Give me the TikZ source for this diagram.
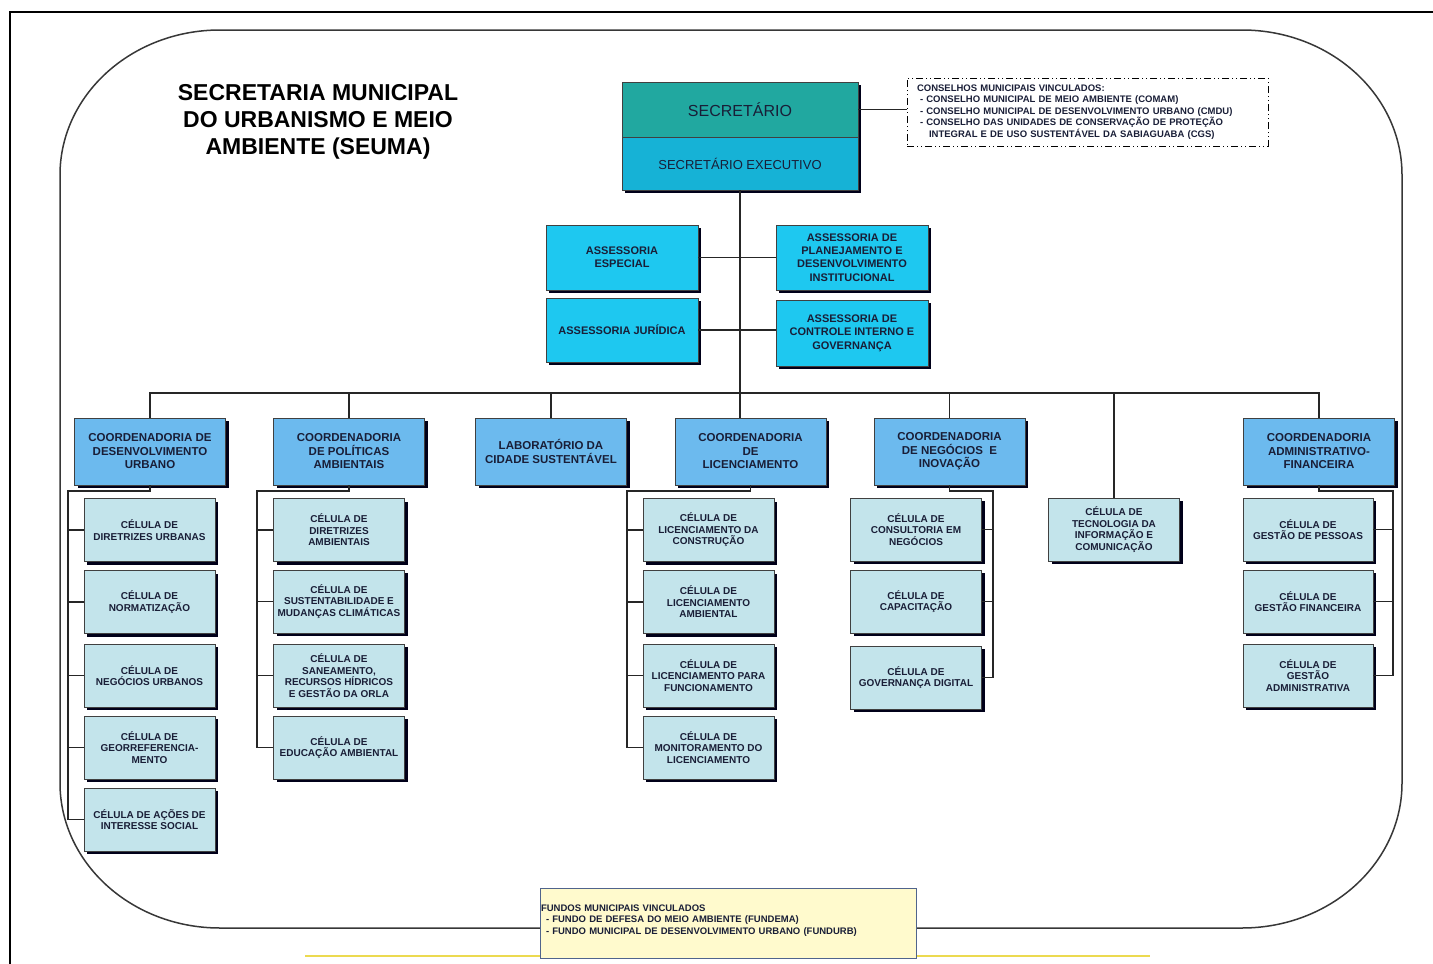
\documentclass[tikz,border=0pt]{standalone}
\usepackage{fontspec}
\setmainfont{Liberation Sans}
\usetikzlibrary{shadows,calc}
\definecolor{secc}{RGB}{33,168,160}
\definecolor{execc}{RGB}{22,178,214}
\definecolor{assc}{RGB}{30,200,240}
\definecolor{coordc}{RGB}{108,186,238}
\definecolor{cellc}{RGB}{195,228,235}
\definecolor{txtc}{RGB}{25,30,55}
\definecolor{fundc}{RGB}{255,250,205}
\definecolor{fundb}{RGB}{80,100,140}
\definecolor{yellc}{RGB}{236,218,80}
\definecolor{framec}{RGB}{55,55,55}
\begin{document}
\begin{tikzpicture}[x=1pt,y=-1pt,
  orgbox/.style={draw=black!75, line width=0.6pt, align=center, text=txtc, inner sep=1pt,
    general shadow={fill=black!90!blue, shadow xshift=3pt, shadow yshift=-3pt}},
  cellbox/.style={orgbox, fill=cellc, minimum width=131pt, minimum height=63pt,
    font=\fontsize{10}{11.5}\selectfont\bfseries},
  coordbox/.style={orgbox, fill=coordc, minimum width=151pt, minimum height=67pt,
    font=\fontsize{11.5}{13.5}\selectfont\bfseries},
  assbox/.style={orgbox, fill=assc, minimum width=152pt, minimum height=65pt,
    font=\fontsize{11}{13.3}\selectfont\bfseries},
  conn/.style={draw=black!85, line width=1.1pt}
]
\useasboundingbox (0,0) rectangle (1433,964);
% outer frame
\draw[line width=1.2pt] (10,964) -- (10,12) -- (1433,12);
% rounded frame
\def\rx{160}\def\ry{145}
\draw[framec, line width=1.5pt] ({60+\rx},30) -- ({1402-\rx},30)
  arc[start angle=-90, end angle=0, x radius=\rx, y radius=\ry]
  -- (1402,{928-\ry})
  arc[start angle=0, end angle=90, x radius=\rx, y radius=\ry]
  -- ({60+\rx},928)
  arc[start angle=90, end angle=180, x radius=\rx, y radius=\ry]
  -- (60,{30+\ry})
  arc[start angle=180, end angle=270, x radius=\rx, y radius=\ry] -- cycle;
% bottom yellow line
\draw[yellc, line width=2.5pt] (305,956) -- (1150,956);

% title
\node[align=center, font=\fontsize{23}{27}\selectfont\bfseries] (title) at (318,122)
  {SECRETARIA MUNICIPAL\\DO URBANISMO E MEIO\\AMBIENTE (SEUMA)};

% secretario
\node[orgbox, fill=secc, minimum width=236pt, minimum height=55pt, font=\fontsize{16}{18}\selectfont] (sec) at (740,109.5) {SECRETÁRIO};
\node[orgbox, fill=execc, minimum width=236pt, minimum height=53pt, font=\fontsize{13}{15}\selectfont] (exe) at (740,163.5) {SECRETÁRIO EXECUTIVO};

% councils
\node[draw=black, line width=0.8pt, dash pattern=on 7pt off 3pt on 1pt off 3pt on 1pt off 3pt,
  minimum width=361pt, minimum height=68pt, inner xsep=10pt, text width=341pt, align=left,
  text=txtc, font=\fontsize{9.5}{11.5}\selectfont\bfseries] (conc) at (1087.5,112)
  {CONSELHOS MUNICIPAIS VINCULADOS:\\
   \hspace*{3pt}- CONSELHO MUNICIPAL DE MEIO AMBIENTE (COMAM)\\
   \hspace*{3pt}- CONSELHO MUNICIPAL DE DESENVOLVIMENTO URBANO (CMDU)\\
   \hspace*{3pt}- CONSELHO DAS UNIDADES DE CONSERVAÇÃO DE PROTEÇÃO\\
   \hspace*{12pt}INTEGRAL E DE USO SUSTENTÁVEL DA SABIAGUABA (CGS)};

% assessorias
\node[assbox] (esp) at (622,257.5) {ASSESSORIA\\ESPECIAL};
\node[assbox, minimum height=64pt] (jur) at (622,330) {ASSESSORIA JURÍDICA};
\node[assbox] (plan) at (852,257.5) {ASSESSORIA DE\\PLANEJAMENTO E\\DESENVOLVIMENTO\\INSTITUCIONAL};
\node[assbox, minimum height=66pt] (ctrl) at (852,333) {ASSESSORIA DE\\CONTROLE INTERNO E\\GOVERNANÇA};

% coordenadorias
\node[coordbox] (cdu) at (150,451.5) {COORDENADORIA DE\\DESENVOLVIMENTO\\URBANO};
\node[coordbox] (cpa) at (349,451.5) {COORDENADORIA\\DE POLÍTICAS\\AMBIENTAIS};
\node[coordbox] (lab) at (551,451.5) {LABORATÓRIO DA\\CIDADE SUSTENTÁVEL};
\node[coordbox] (lic) at (750.5,451.5) {COORDENADORIA\\DE\\LICENCIAMENTO};
\node[coordbox] (cni) at (949.5,451.5) {COORDENADORIA\\DE NEGÓCIOS\ \ E\\INOVAÇÃO};
\node[coordbox] (cadm) at (1319,451.5) {COORDENADORIA\\ADMINISTRATIVO-\\FINANCEIRA};

% cells: desenvolvimento urbano
\node[cellbox] (du1) at (149.5,530) {CÉLULA DE\\DIRETRIZES URBANAS};
\node[cellbox] (du2) at (149.5,602) {CÉLULA DE\\NORMATIZAÇÃO};
\node[cellbox] (du3) at (149.5,675.5) {CÉLULA DE\\NEGÓCIOS URBANOS};
\node[cellbox] (du4) at (149.5,747.5) {CÉLULA DE\\GEORREFERENCIA-\\MENTO};
\node[cellbox] (du5) at (149.5,819.5) {CÉLULA DE AÇÕES DE\\INTERESSE SOCIAL};
% politicas ambientais
\node[cellbox] (pa1) at (339,530) {CÉLULA DE\\DIRETRIZES\\AMBIENTAIS};
\node[cellbox] (pa2) at (339,601.5) {CÉLULA DE\\SUSTENTABILIDADE E\\MUDANÇAS CLIMÁTICAS};
\node[cellbox] (pa3) at (339,675.5) {CÉLULA DE\\SANEAMENTO,\\RECURSOS HÍDRICOS\\E GESTÃO DA ORLA};
\node[cellbox] (pa4) at (339,747.5) {CÉLULA DE\\EDUCAÇÃO AMBIENTAL};
% licenciamento
\node[cellbox] (lc1) at (708.5,530) {CÉLULA DE\\LICENCIAMENTO DA\\CONSTRUÇÃO};
\node[cellbox] (lc2) at (708.5,602) {CÉLULA DE\\LICENCIAMENTO\\AMBIENTAL};
\node[cellbox] (lc3) at (708.5,675.5) {CÉLULA DE\\LICENCIAMENTO PARA\\FUNCIONAMENTO};
\node[cellbox] (lc4) at (708.5,747.5) {CÉLULA DE\\MONITORAMENTO DO\\LICENCIAMENTO};
% negocios
\node[cellbox] (ng1) at (916,529.5) {CÉLULA DE\\CONSULTORIA EM\\NEGÓCIOS};
\node[cellbox] (ng2) at (916,601.5) {CÉLULA DE\\CAPACITAÇÃO};
\node[cellbox] (ng3) at (916,677.5) {CÉLULA DE\\GOVERNANÇA DIGITAL};
% TI
\node[cellbox] (ti) at (1114,529.5) {CÉLULA DE\\TECNOLOGIA DA\\INFORMAÇÃO E\\COMUNICAÇÃO};
% administrativo
\node[cellbox, minimum width=130pt] (ad1) at (1308,529.5) {CÉLULA DE\\GESTÃO DE PESSOAS};
\node[cellbox, minimum width=130pt] (ad2) at (1308,601.5) {CÉLULA DE\\GESTÃO FINANCEIRA};
\node[cellbox, minimum width=130pt] (ad3) at (1308,675.5) {CÉLULA DE\\GESTÃO\\ADMINISTRATIVA};

% fundos
\node[draw=fundb, line width=0.8pt, fill=fundc, minimum width=376pt, minimum height=70pt,
  inner xsep=1pt, text width=374pt, align=left, text=txtc,
  font=\fontsize{9.5}{11.5}\selectfont\bfseries] (fund) at (728,923)
  {FUNDOS MUNICIPAIS VINCULADOS\\
   \hspace*{5pt}- FUNDO DE DEFESA DO MEIO AMBIENTE (FUNDEMA)\\
   \hspace*{5pt}- FUNDO MUNICIPAL DE DESENVOLVIMENTO URBANO (FUNDURB)\\[-4pt]\mbox{}};

% connectors
\coordinate (bus) at (740,393);
\draw[conn] (sec.east) -- (sec.east -| conc.west);
\draw[conn] (exe.south) -- (exe.south |- lic.north);
\draw[conn] (esp.east) -- (plan.west);
\draw[conn] (jur.east) -- (jur.east -| ctrl.west);
\draw[conn] (cdu.north) |- (bus) -| (cadm.north);
\foreach \n in {cpa,lab,cni,ti} \draw[conn] (\n.north) -- (\n.north |- bus);

\coordinate (du) at (68,491);
\draw[conn] (cdu.south) -- (cdu.south |- du) -- (du) -- (du |- du5.west) -- (du5.west);
\foreach \n in {du1,du2,du3,du4} \draw[conn] (du |- \n.west) -- (\n.west);

\coordinate (pa) at (257,491);
\draw[conn] (cpa.south) -- (cpa.south |- pa) -- (pa) -- (pa |- pa4.west) -- (pa4.west);
\foreach \n in {pa1,pa2,pa3} \draw[conn] (pa |- \n.west) -- (\n.west);

\coordinate (lcv) at (627,491);
\draw[conn] (lic.south) -- (lic.south |- lcv) -- (lcv) -- (lcv |- lc4.west) -- (lc4.west);
\foreach \n in {lc1,lc2,lc3} \draw[conn] (lcv |- \n.west) -- (\n.west);

\coordinate (ngv) at (993,491);
\draw[conn] (cni.south) -- (cni.south |- ngv) -- (ngv) -- (ngv |- ng3.east) -- (ng3.east);
\foreach \n in {ng1,ng2} \draw[conn] (ngv |- \n.east) -- (\n.east);

\coordinate (adv) at (1393,491);
\draw[conn] (cadm.south) -- (cadm.south |- adv) -- (adv) -- (adv |- ad3.east) -- (ad3.east);
\foreach \n in {ad1,ad2} \draw[conn] (adv |- \n.east) -- (\n.east);
\end{tikzpicture}
\end{document}
